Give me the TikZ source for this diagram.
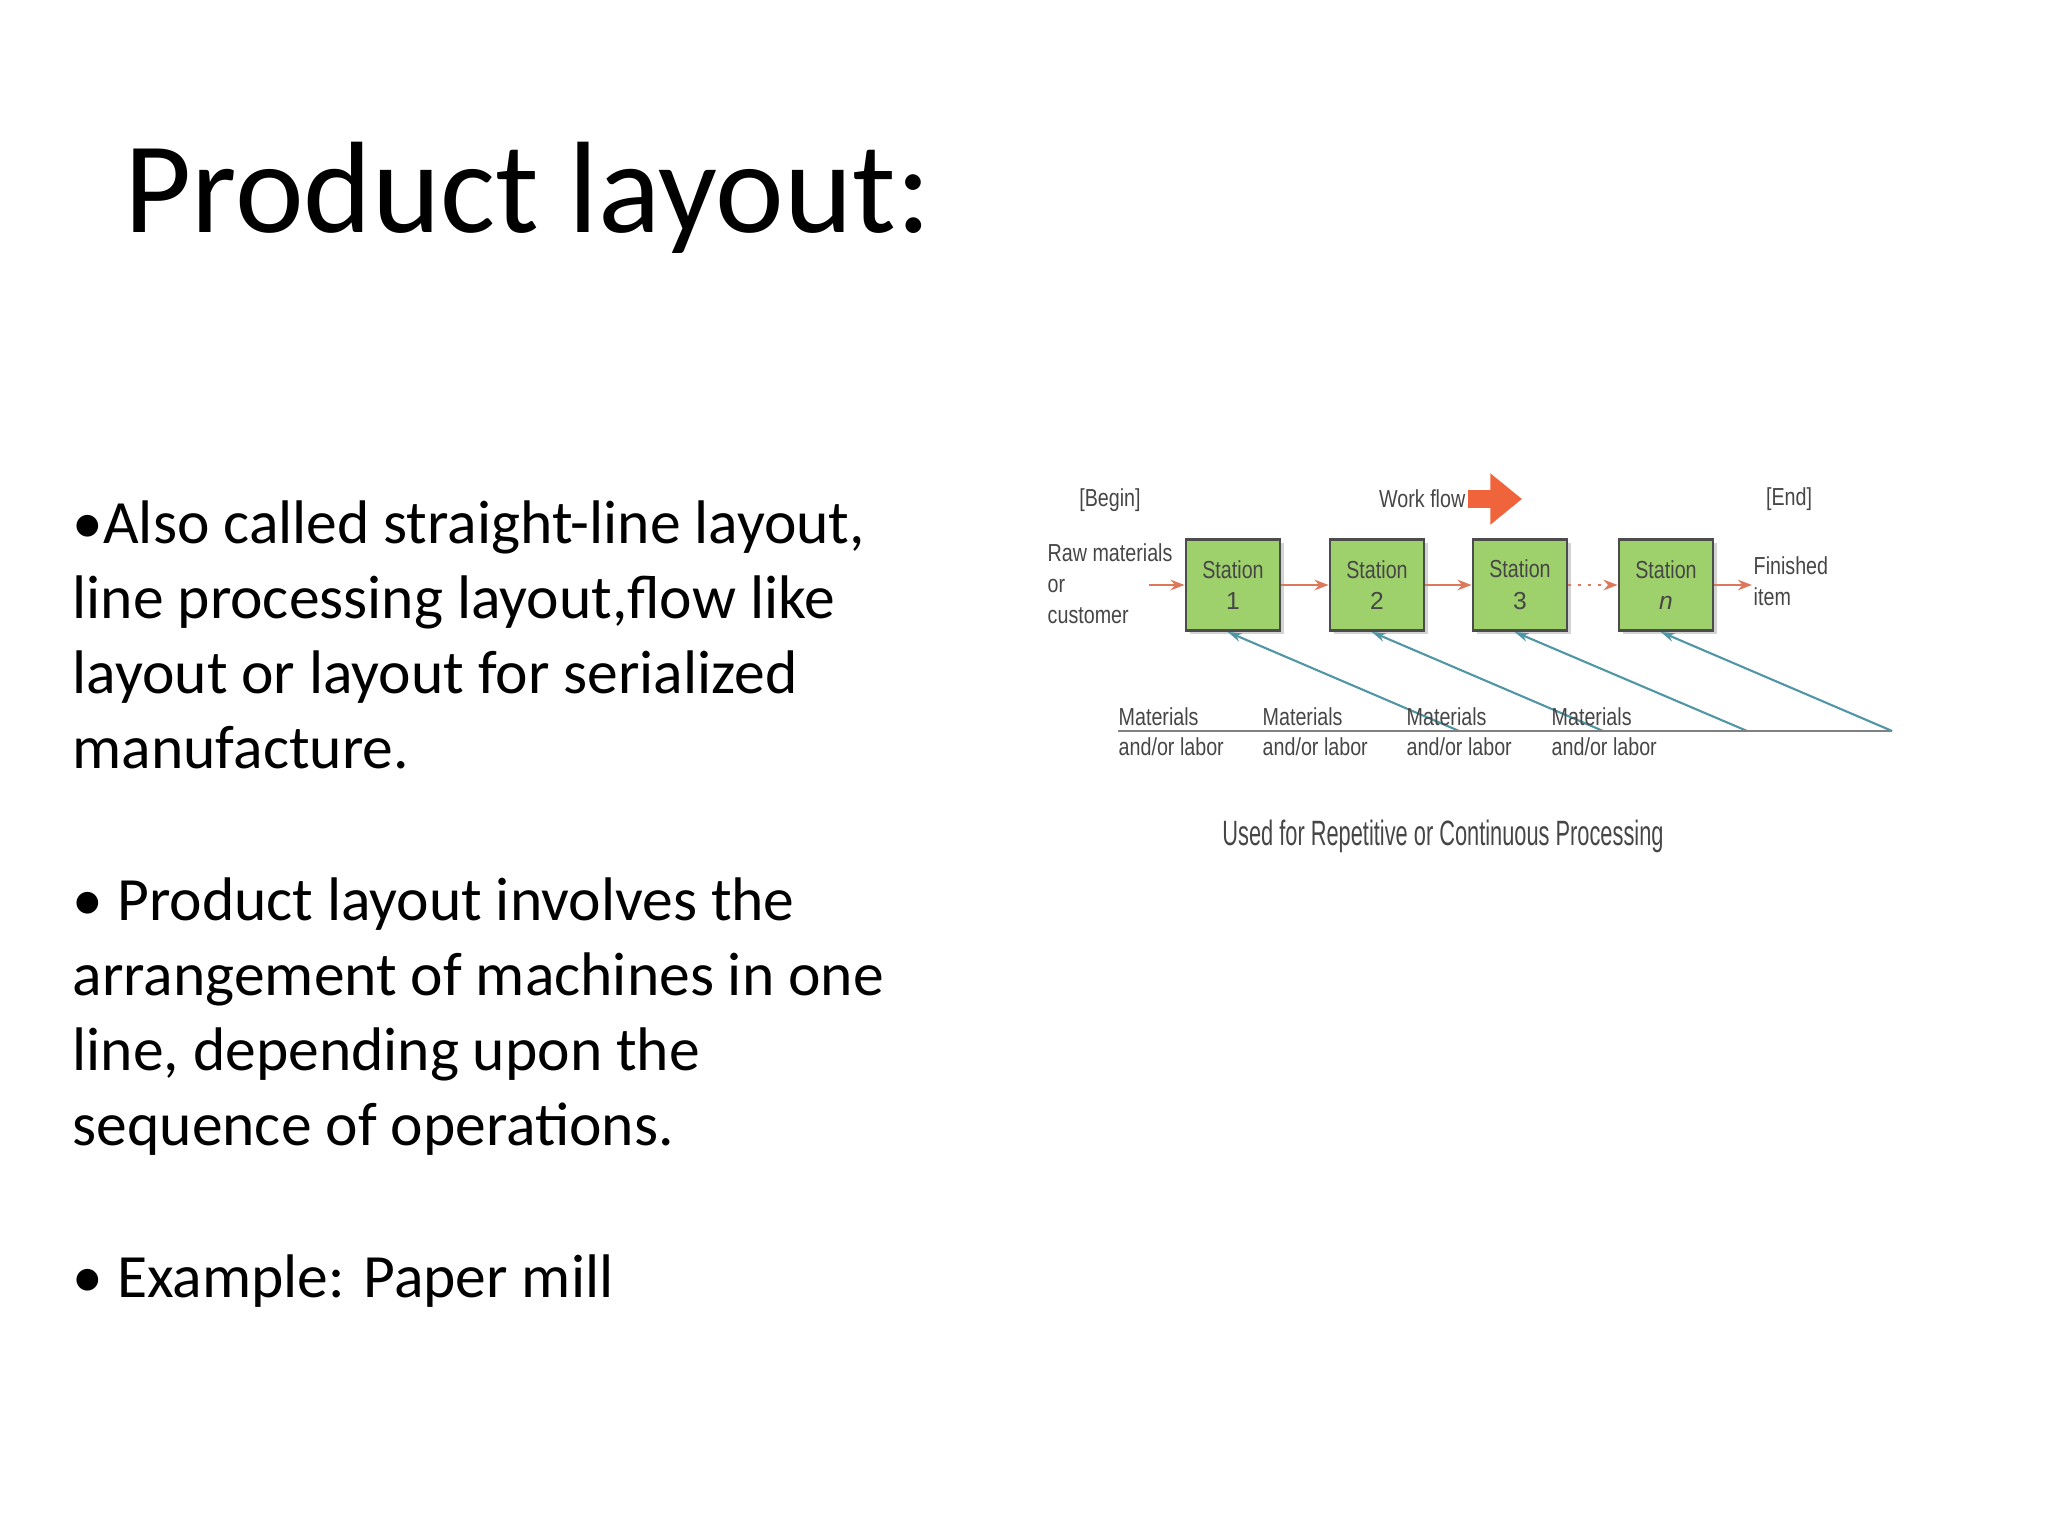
\documentclass[tikz,border=0pt]{standalone}
\usepackage{fontspec}
\setmainfont{Carlito}
\newfontfamily\dfont{Liberation Sans}
\usetikzlibrary{arrows.meta,shadows}
\newcommand{\cnd}[2][0.8]{\scalebox{#1}[1]{#2}}
\definecolor{boxg}{RGB}{158,208,108}
\definecolor{flowc}{RGB}{222,120,90}
\definecolor{wfc}{RGB}{240,100,60}
\definecolor{matc}{RGB}{80,150,165}
\definecolor{txg}{RGB}{70,70,70}
\begin{document}
\begin{tikzpicture}[x=0.01cm,y=-0.01cm,
  stn/.style={draw=black!70,line width=0.8pt,fill=boxg,minimum width=0.94cm,minimum height=0.91cm,inner sep=0pt,
    drop shadow={shadow xshift=1pt,shadow yshift=-1pt,opacity=0.35},
    font=\dfont\fontsize{7}{9}\selectfont,text=txg,align=center},
  lbl/.style={font=\dfont\fontsize{7}{8.8}\selectfont,text=txg,inner sep=0pt},
  flow/.style={draw=flowc,line width=0.8pt,-{Stealth[length=4pt,width=3pt]}},
  mat/.style={draw=matc,line width=0.6pt,-{Stealth[length=4pt,width=2.5pt]}},
  body/.style={font=\fontsize{17.5}{21.3}\selectfont,anchor=north west,align=left,inner sep=0pt}]
\useasboundingbox (0,0) rectangle (2048,1536);
\node[font=\fontsize{37}{44}\selectfont,anchor=base west,inner sep=0pt] (title) at (124,232) {Product layout:};
\node[body] (b1) at (72,500) {•Also called straight-line layout,\\line processing layout,flow like\\layout or layout for serialized\\manufacture.};
\node[body] (b2) at (72,877) {• Product layout involves the\\arrangement of machines in one\\line, depending upon the\\sequence of operations.};
\node[body] (b3) at (72,1254) {• Example: Paper mill};
% diagram
\node[stn] (s1) at (1233,585) {\cnd{Station}\\1};
\node[stn] (s2) at (1377,585) {\cnd{Station}\\2};
\node[stn] (s3) at (1520,585) {\cnd{Station}\\3};
\node[stn] (sn) at (1666,585) {\cnd{Station}\\\textit{n}};
\node[lbl,anchor=west] (raw) at (1047,586) {\cnd{\begin{tabular}{@{}l@{}}Raw materials\\or\\customer\end{tabular}}};
\node[lbl,anchor=west] (fin) at (1753,584) {\cnd{\begin{tabular}{@{}l@{}}Finished\\item\end{tabular}}};
\node[lbl] (begin) at (1110,500) {\cnd{[Begin]}};
\node[lbl] (end) at (1789,499) {\cnd{[End]}};
\node[lbl,anchor=east] (wf) at (1466,499) {\cnd{Work flow}};
\coordinate (wfa) at (1468,499);
\coordinate (wfb) at (1522,499);
\draw[wfc,line width=5pt,-{Triangle[length=9pt,width=14pt]}] (wfa) -- (wfb);
\coordinate (rin) at (1149,585);
\coordinate (fout) at (1752,585);
\draw[flow] (rin) -- (s1);
\draw[flow] (s1) -- (s2);
\draw[flow] (s2) -- (s3);
\draw[flow,dotted] (s3) -- (sn);
\draw[flow] (sn) -- (fout);
\node[lbl,font=\dfont\fontsize{10}{12}\selectfont] (cap) at (1443,836) {\cnd[0.62]{Used for Repetitive or Continuous Processing}};
\foreach \i/\s/\x in {1/s1/1118,2/s2/1262,3/s3/1406,4/sn/1551}{
  \node[lbl,anchor=west] (m\i) at (\x,717) {\cnd{Materials}};
  \node[lbl,anchor=west] (a\i) at (\x,747) {\cnd{and/or labor}};
  \coordinate (u\i) at (\x,731);
  \coordinate (v\i) at ([xshift=97]u\i);
  \draw[gray,line width=0.6pt] (u\i) -- (v\i);
  \draw[mat] (v\i) -- ([xshift=-1.5pt]\s.south);
}
\end{tikzpicture}
\end{document}
